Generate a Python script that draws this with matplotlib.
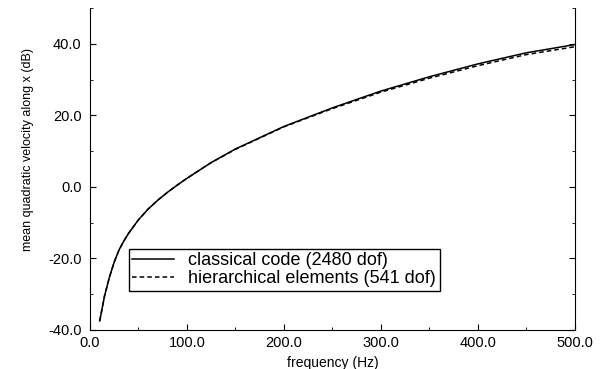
import numpy as np
import matplotlib.pyplot as plt
from matplotlib.ticker import MultipleLocator, FormatStrFormatter

plt.rcParams['font.family'] = ['Liberation Sans', 'DejaVu Sans']

# values
freq = [10, 15, 20, 25, 30, 35, 40, 50, 60, 70, 80, 90, 100, 125, 150, 200, 250, 300, 350, 400, 450, 500]
classical = [-37.5, -30.5, -25.3, -21.0, -17.6, -15.1, -12.9, -9.2, -6.2, -3.7, -1.5, 0.5, 2.4,
             6.8, 10.6, 16.9, 22.1, 26.8, 30.8, 34.4, 37.5, 39.8]
hierarchical = [-37.5, -30.5, -25.3, -21.0, -17.6, -15.1, -12.9, -9.2, -6.2, -3.7, -1.5, 0.5, 2.4,
                6.8, 10.5, 16.8, 21.9, 26.5, 30.4, 33.9, 37.0, 39.2]

fig = plt.figure(figsize=(6, 3.69), dpi=100)
ax = fig.add_axes([0.15, 0.106, 0.808, 0.872])

ax.plot(freq, classical, color='black', lw=1.1, label='classical code (2480 dof)')
ax.plot(freq, hierarchical, color='black', lw=1.1, ls=(0, (3, 2)),
        label='hierarchical elements (541 dof)')

ax.set_xlim(0, 500)
ax.set_ylim(-40, 50)
ax.xaxis.set_major_locator(MultipleLocator(100))
ax.xaxis.set_minor_locator(MultipleLocator(50))
ax.yaxis.set_major_locator(MultipleLocator(20))
ax.yaxis.set_minor_locator(MultipleLocator(10))
ax.xaxis.set_major_formatter(FormatStrFormatter('%.1f'))
ax.yaxis.set_major_formatter(FormatStrFormatter('%.1f'))
ax.tick_params(which='both', direction='in', right=True, top=False, labelsize=10.5)
ax.tick_params(which='major', length=4)
ax.tick_params(which='minor', length=2.5)
ax.tick_params(axis='x', pad=4.5)
ax.tick_params(axis='y', pad=6)
ax.spines['top'].set_visible(False)

ax.set_xlabel('frequency (Hz)', fontsize=10, labelpad=4)
ax.set_ylabel('mean quadratic velocity along x (dB)', fontsize=9)
ax.yaxis.set_label_coords(-0.115, 0.56)

ax.legend(loc='lower left', bbox_to_anchor=(0.08, 0.121), fontsize=13,
          frameon=True, fancybox=False, edgecolor='black', framealpha=1,
          handlelength=2.3, borderpad=0.2, labelspacing=0.05, borderaxespad=0)

fig.savefig('out.png', dpi=100)
